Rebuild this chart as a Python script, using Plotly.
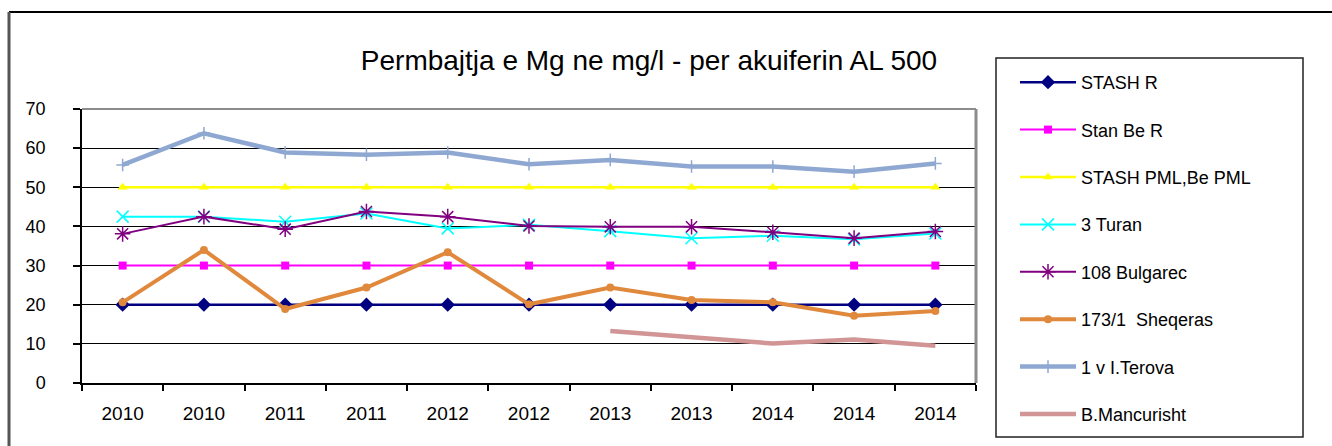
import plotly.graph_objects as go

# Category labels along the x axis (two samplings per year)
years = ["2010", "2010", "2011", "2011", "2012", "2012",
         "2013", "2013", "2014", "2014", "2014"]
idx = list(range(len(years)))

# Mg content (mg/l) per well / reference standard
stash_r = [20, 20, 20, 20, 20, 20, 20, 20, 20, 20, 20]
stan_be_r = [30, 30, 30, 30, 30, 30, 30, 30, 30, 30, 30]
stash_pml = [50, 50, 50, 50, 50, 50, 50, 50, 50, 50, 50]
turan_3 = [42.5, 42.5, 41.2, 43.3, 39.5, 40.4, 38.8, 37.0, 37.6, 36.7, 38.2]
bulgarec_108 = [38.1, 42.5, 39.3, 43.8, 42.5, 40.1, 39.9, 39.9, 38.5, 37.0, 38.7]
sheqeras_173 = [20.6, 34.0, 18.9, 24.4, 33.4, 20.1, 24.4, 21.2, 20.6, 17.2, 18.4]
terova_1v = [55.7, 63.8, 58.9, 58.3, 58.9, 55.9, 57.0, 55.3, 55.3, 54.0, 56.1]
mancurisht = [None, None, None, None, None, None, 13.3, 11.6, 10.1, 11.1, 9.5]

W, H = 1332, 446
L, R, T, B = 82, 356, 109, 63
PW, PH = W - L - R, H - T - B


def px(x):
    return (x - L) / PW


def py(y):
    return (H - B - y) / PH


FONT = "Liberation Sans, Arial, sans-serif"

series = [
    ("STASH R", stash_r, "#000080", 2.5, "diamond", 11, None),
    ("Stan Be R", stan_be_r, "#FF00FF", 2, "square", 8, None),
    ("STASH PML,Be PML", stash_pml, "#FFFF00", 2.5, "triangle-up", 9, None),
    ("3 Turan", turan_3, "#00FFFF", 2, "x-thin-open", 12, "#33E6F0"),
    ("108 Bulgarec", bulgarec_108, "#800080", 2, "asterisk-open", 13, "#8E3E92"),
    ("173/1  Sheqeras", sheqeras_173, "#E0893D", 4, "circle", 8, None),
    ("1 v I.Terova", terova_1v, "#8EA8D2", 4.5, "cross-thin-open", 9, "#8EA8D2"),
    ("B.Mancurisht", mancurisht, "#D19595", 4.5, None, 0, None),
]

fig = go.Figure()
for i, (name, vals, color, lw, sym, size, mline) in enumerate(series):
    marker = dict(color=color, size=size)
    if sym:
        marker["symbol"] = sym
        if mline:
            marker["line"] = dict(color=mline, width=1.5)
        mode = "lines+markers"
    else:
        mode = "lines"
    fig.add_trace(go.Scatter(
        x=idx, y=vals, name=name, mode=mode,
        line=dict(color=color, width=lw),
        marker=marker, legendgroup=f"g{i}",
        connectgaps=False,
    ))

shapes = [
    # outer chart frame (top and left)
    dict(type="line", xref="paper", yref="paper",
         x0=px(9), x1=px(1340), y0=py(12), y1=py(12),
         line=dict(color="#000000", width=2)),
    dict(type="line", xref="paper", yref="paper",
         x0=px(9), x1=px(9), y0=py(12), y1=py(450),
         line=dict(color="#555555", width=3)),
    # plot area border (top and right)
    dict(type="line", xref="paper", yref="paper",
         x0=0, x1=1, y0=1, y1=1, line=dict(color="#8C8C8C", width=2)),
    dict(type="line", xref="paper", yref="paper",
         x0=1, x1=1, y0=0, y1=1, line=dict(color="#8C8C8C", width=3)),
    # legend frame
    dict(type="rect", xref="paper", yref="paper",
         x0=px(996), x1=px(1303), y0=py(58), y1=py(437),
         line=dict(color="#222222", width=1.5)),
]

fig.update_layout(
    width=W, height=H,
    margin=dict(l=L, r=R, t=T, b=B, pad=0),
    paper_bgcolor="white", plot_bgcolor="white",
    font=dict(family=FONT, color="#000000"),
    title=dict(text="Permbajtja e Mg ne mg/l - per akuiferin AL 500",
               x=649 / W, xanchor="center", xref="container",
               y=1 - 60 / H, yanchor="middle", yref="container",
               font=dict(family=FONT, size=28, color="#000000")),
    showlegend=True,
    legend=dict(x=px(1015), y=py(64), xanchor="left", yanchor="top",
                bgcolor="rgba(0,0,0,0)", borderwidth=0,
                font=dict(family=FONT, size=18, color="#000000"),
                itemwidth=56, tracegroupgap=21, traceorder="grouped",
                maxheight=440),
    shapes=shapes,
)

fig.update_xaxes(
    range=[-0.5, 10.5], tickmode="array", tickvals=idx, ticktext=years,
    ticks="", showgrid=False, zeroline=False,
    showline=True, linecolor="#000000", linewidth=1.5,
    tickfont=dict(family=FONT, size=19, color="#000000"),
    ticklabelstandoff=12,
    minor=dict(tickmode="array", tickvals=[k - 0.5 for k in range(12)],
               ticks="outside", ticklen=6, tickcolor="#000000", tickwidth=1.5,
               showgrid=False),
)
fig.update_yaxes(
    range=[0, 70], tickmode="linear", tick0=0, dtick=10,
    ticks="outside", ticklen=7, tickcolor="#000000", tickwidth=1.5,
    showgrid=True, gridcolor="#000000", gridwidth=1,
    zeroline=False, showline=True, linecolor="#000000", linewidth=1.5,
    tickfont=dict(family=FONT, size=18, color="#000000"),
    ticklabelstandoff=24,
)

fig.write_html("out.html")
